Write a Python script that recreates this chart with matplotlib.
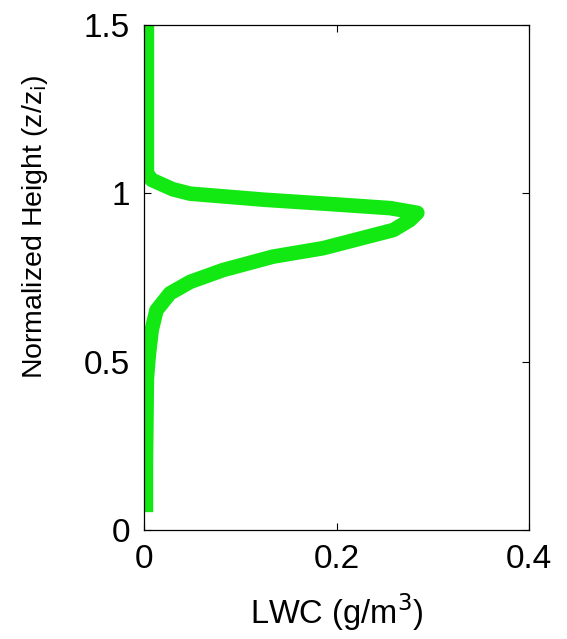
import numpy as np
import matplotlib.pyplot as plt

plt.rcParams['font.family'] = ['Liberation Sans', 'DejaVu Sans']

# LWC profile (bottom to top)
height = [0.053, 0.2, 0.45, 0.52, 0.594, 0.653, 0.703, 0.737, 0.772, 0.812,
          0.837, 0.891, 0.92, 0.942, 0.956, 0.967, 0.981, 0.999, 1.012, 1.04,
          1.06, 1.1, 1.3, 1.5]
lwc = [0.002, 0.002, 0.003, 0.005, 0.008, 0.013, 0.027, 0.048, 0.082, 0.134,
       0.186, 0.259, 0.276, 0.284, 0.256, 0.200, 0.125, 0.048, 0.030, 0.008,
       0.003, 0.003, 0.003, 0.003]

xticks = [0, 0.2, 0.4]
xticklabels = ['0', '0.2', '0.4']
yticks = [0, 0.5, 1, 1.5]
yticklabels = ['0', '0.5', '1', '1.5']

fig = plt.figure(figsize=(5.67, 6.39), dpi=100)
ax = fig.add_axes([144 / 567, 1 - 530 / 639, 385 / 567, 505 / 639])

ax.plot(lwc, height, color='#12e812', linewidth=10.5, solid_capstyle='butt',
        solid_joinstyle='round')

ax.set_xlim(0, 0.4)
ax.set_ylim(0, 1.5)
ax.set_xticks(xticks)
ax.set_xticklabels(xticklabels)
ax.set_yticks(yticks)
ax.set_yticklabels(yticklabels)
ax.tick_params(direction='in', length=5, width=0.8, top=True, right=True,
               labelsize=24, colors='black')
ax.tick_params(axis='x', pad=10)
ax.tick_params(axis='y', pad=10)
for s in ax.spines.values():
    s.set_linewidth(0.9)

ax.set_xlabel(r'LWC (g/m$^3$)', fontsize=23.5, labelpad=12)
ax.set_ylabel(r'Normalized Height (z/z$_\mathrm{i}$)', fontsize=20.5)
ax.yaxis.set_label_coords(-0.245, 0.6)

plt.savefig('out.png', dpi=100)
